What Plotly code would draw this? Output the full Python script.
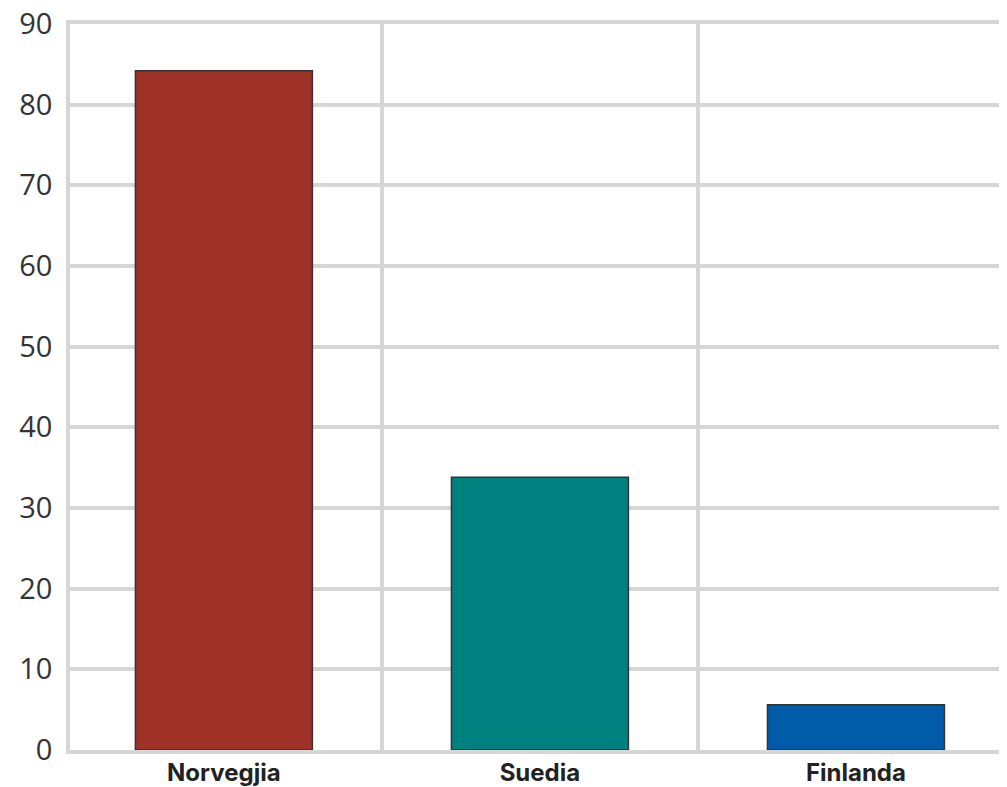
import plotly.graph_objects as go

# data
countries = ["Norvegjia", "Suedia", "Finlanda"]
values = [84.2, 33.8, 5.6]
bar_colors = ["#9e3128", "#00807f", "#015ba8"]
y_ticks = [0, 10, 20, 30, 40, 50, 60, 70, 80, 90]

grid_color = "#d6d6d9"

fig = go.Figure()
fig.add_trace(go.Bar(
    x=list(range(len(countries))),
    y=values,
    width=0.56,
    marker=dict(color=bar_colors, line=dict(color="#333333", width=1.5)),
    showlegend=False,
))

# the page body keeps an 8px margin, so the figure is a bit smaller
fig.update_layout(
    width=999,
    height=779,
    margin=dict(l=62, r=0, t=16, b=37),
    plot_bgcolor="white",
    paper_bgcolor="white",
    xaxis=dict(
        range=[-0.487, 2.478],
        tickvals=list(range(len(countries))),
        ticktext=countries,
        tickfont=dict(family="Inter", size=24, color="#222222", weight="bold"),
        showgrid=False,
        zeroline=False,
        showline=True,
        mirror=True,
        linecolor=grid_color,
        linewidth=3.5,
        ticks="",
        ticklabelstandoff=-2,
        automargin=False,
        ticklabeloverflow="allow",
        minor=dict(tick0=0.5, dtick=1, showgrid=True, gridcolor=grid_color, gridwidth=3.5, ticks=""),
    ),
    yaxis=dict(
        range=[0, 90],
        tickvals=y_ticks,
        tickfont=dict(family="Open Sans", size=29, color="#333333"),
        showgrid=True,
        gridcolor=grid_color,
        gridwidth=3.5,
        zeroline=False,
        showline=True,
        linecolor=grid_color,
        linewidth=3.5,
        ticks="outside",
        ticklen=8,
        tickcolor="white",
        automargin=False,
        ticklabeloverflow="allow",
    ),
)

fig.write_html("out.html")
